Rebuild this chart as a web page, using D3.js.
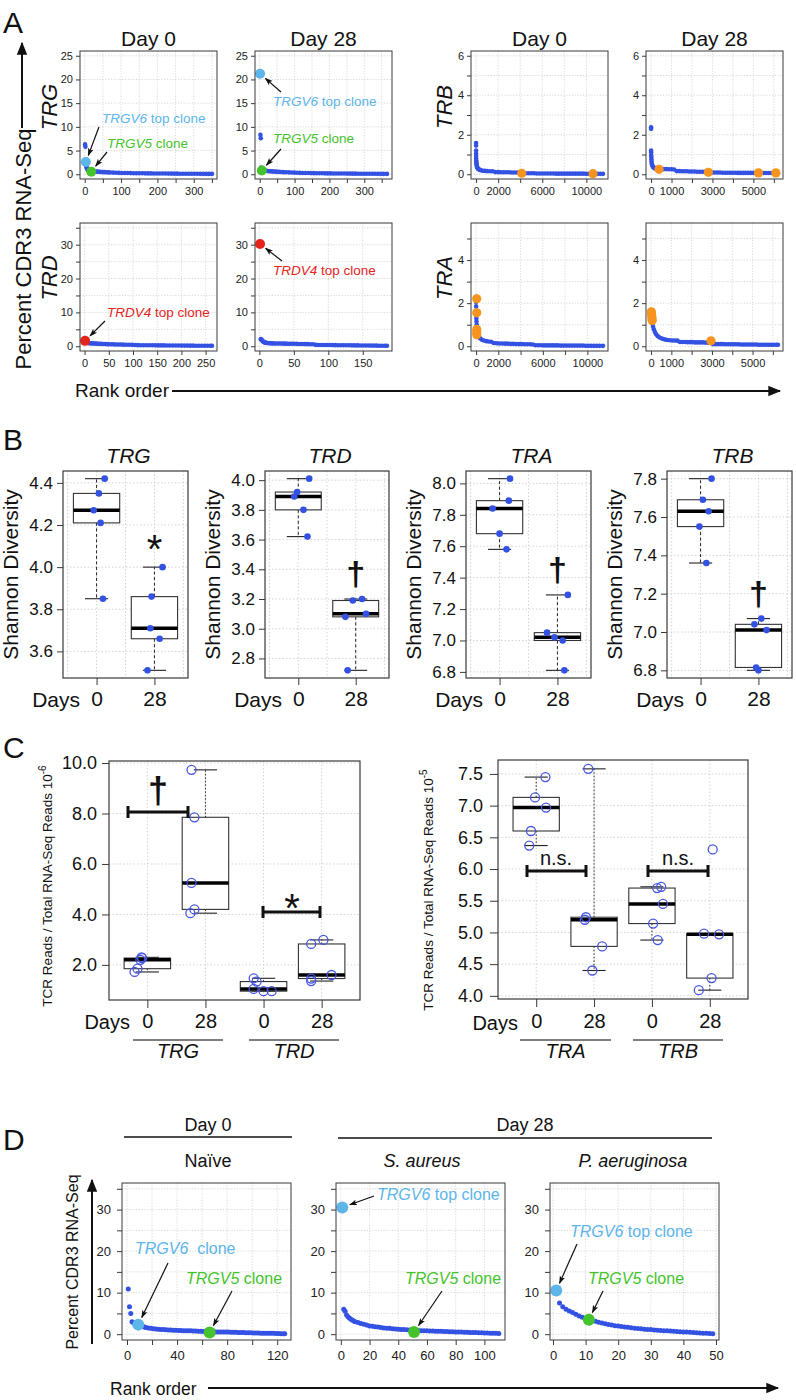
<!DOCTYPE html>
<html><head><meta charset="utf-8">
<script src="https://cdn.jsdelivr.net/npm/d3@7"></script>
<style>
body{margin:0;background:#fff}
svg{display:block}
text{font-family:"Liberation Sans",Arial,Helvetica,sans-serif}
</style></head>
<body><svg width="796" height="1400"></svg>
<script>
// ================= DATA =================
// Panel A: rank-order clone frequencies, [rank, percent CDR3 RNA-Seq]
const aTRG0 = [[1,6.3],[2,5.8],[4,1.9],[5,1.5],[6,1.3],[7,1.1],[8,1.0],[9,0.9],[10,0.85],[12,0.8],[14,0.75],[16,0.7],[20,0.65],[23,0.62],[26,0.6],[30,0.57],[34,0.55],[38,0.52],[42,0.5],[46,0.48],[50,0.46],[55,0.44],[60,0.42],[65,0.4],[70,0.38],[78,0.35],[86,0.32],[94,0.3],[102,0.28],[110,0.26],[118,0.25],[126,0.24],[134,0.22],[142,0.21],[150,0.2],[158,0.2],[166,0.19],[174,0.18],[182,0.18],[190,0.17],[198,0.16],[206,0.16],[214,0.15],[222,0.15],[230,0.14],[238,0.14],[246,0.13],[254,0.13],[262,0.12],[270,0.12],[278,0.11],[286,0.11],[294,0.1],[302,0.1],[310,0.1],[318,0.09],[326,0.09],[334,0.08],[342,0.08],[350,0.08]];
const aTRG0_top = [[3,2.6]];
const aTRG0_v5 = [[18,0.55]];
const aTRG28 = [[2,8.3],[3,7.6],[4,1.4],[5,1.2],[7,1.0],[8,0.95],[10,0.9],[12,0.85],[15,0.8],[18,0.75],[22,0.7],[26,0.65],[30,0.62],[35,0.6],[40,0.57],[45,0.55],[50,0.52],[56,0.5],[62,0.47],[68,0.45],[75,0.42],[83,0.4],[91,0.37],[99,0.35],[107,0.32],[115,0.3],[123,0.28],[131,0.27],[139,0.25],[147,0.24],[155,0.23],[163,0.22],[171,0.21],[179,0.2],[187,0.19],[195,0.18],[203,0.18],[211,0.17],[219,0.16],[227,0.16],[235,0.15],[243,0.15],[251,0.14],[259,0.14],[267,0.13],[275,0.13],[283,0.12],[291,0.12],[299,0.11],[307,0.11],[315,0.1],[323,0.1],[331,0.1],[339,0.09],[347,0.09],[355,0.08],[365,0.08]];
const aTRG28_top = [[1,21.2]];
const aTRG28_v5 = [[6,0.8]];
const aTRD0 = [[2,1.3],[3,1.2],[4,1.1],[5,1.05],[6,1.0],[8,0.95],[10,0.9],[12,0.88],[15,0.85],[18,0.82],[21,0.8],[24,0.78],[27,0.75],[30,0.72],[34,0.7],[38,0.67],[42,0.65],[46,0.62],[50,0.6],[55,0.58],[60,0.56],[65,0.54],[70,0.52],[75,0.5],[80,0.48],[86,0.46],[92,0.44],[98,0.42],[104,0.35],[110,0.33],[116,0.32],[122,0.31],[128,0.3],[134,0.29],[140,0.28],[146,0.27],[152,0.26],[158,0.25],[164,0.25],[170,0.24],[176,0.23],[182,0.22],[188,0.22],[194,0.21],[200,0.2],[206,0.2],[212,0.19],[218,0.18],[224,0.18],[230,0.17],[236,0.16],[242,0.16],[248,0.15],[254,0.15],[260,0.14],[263,0.14]];
const aTRD0_top = [[1,1.6]];
const aTRD28 = [[2,2.1],[3,2.0],[4,1.7],[5,1.5],[6,1.35],[7,1.2],[8,1.1],[9,1.05],[10,1.0],[12,0.95],[14,0.9],[16,0.88],[18,0.86],[20,0.85],[23,0.83],[26,0.82],[29,0.8],[32,0.8],[35,0.78],[38,0.77],[41,0.76],[44,0.75],[47,0.74],[50,0.72],[54,0.7],[58,0.68],[62,0.66],[66,0.64],[70,0.62],[74,0.6],[78,0.58],[82,0.4],[86,0.39],[90,0.38],[94,0.37],[98,0.36],[102,0.35],[106,0.34],[110,0.33],[114,0.32],[118,0.31],[122,0.3],[126,0.29],[130,0.28],[134,0.27],[138,0.26],[142,0.25],[146,0.24],[150,0.23],[154,0.22],[158,0.21],[162,0.2],[166,0.19],[170,0.18],[174,0.17],[178,0.16],[182,0.15],[185,0.15]];
const aTRD28_top = [[1,30.2]];
const aTRB0 = [[1,1.58],[2,1.45],[4,1.2],[6,1.05],[9,0.92],[13,0.8],[18,0.7],[25,0.62],[35,0.55],[50,0.48],[70,0.42],[100,0.36],[140,0.31],[200,0.27],[270,0.24],[350,0.22],[450,0.2],[600,0.18],[800,0.17],[1000,0.16],[1250,0.15],[1500,0.15],[1750,0.11],[2000,0.11],[2250,0.1],[2500,0.1],[2750,0.1],[3000,0.1],[3250,0.09],[3500,0.09],[3750,0.09],[4000,0.09],[4250,0.05],[4500,0.05],[4750,0.05],[5000,0.05],[5250,0.05],[5500,0.04],[5750,0.04],[6000,0.04],[6250,0.04],[6500,0.04],[6750,0.04],[7000,0.04],[7250,0.03],[7500,0.03],[7750,0.03],[8000,0.03],[8250,0.03],[8500,0.03],[8750,0.03],[9000,0.03],[9250,0.03],[9500,0.03],[9750,0.03],[10000,0.02],[10250,0.02],[10500,0.02],[10750,0.02],[11000,0.02],[11250,0.02],[11500,0.02]];
const aTRB0_sel = [[4140,0.05],[10600,0.03]];
const aTRB28 = [[1,2.38],[2,2.3],[4,1.2],[6,1.1],[9,0.95],[13,0.85],[18,0.75],[25,0.65],[35,0.55],[50,0.48],[70,0.42],[100,0.37],[130,0.34],[170,0.31],[220,0.29],[250,0.28],[375,0.27],[500,0.27],[625,0.26],[750,0.26],[875,0.25],[1000,0.25],[1125,0.24],[1250,0.16],[1375,0.16],[1500,0.15],[1625,0.15],[1750,0.15],[1875,0.14],[2000,0.14],[2125,0.14],[2250,0.13],[2375,0.13],[2500,0.13],[2625,0.12],[2750,0.12],[2875,0.12],[3000,0.09],[3125,0.09],[3250,0.09],[3375,0.09],[3500,0.08],[3625,0.08],[3750,0.08],[3875,0.08],[4000,0.08],[4125,0.08],[4250,0.07],[4375,0.07],[4500,0.07],[4625,0.07],[4750,0.07],[4875,0.07],[5000,0.07],[5125,0.06],[5250,0.06],[5375,0.06],[5500,0.06],[5625,0.06],[5750,0.06],[5875,0.06],[6000,0.06],[6125,0.05],[6200,0.05]];
const aTRB28_sel = [[390,0.25],[2800,0.1],[5250,0.07],[6100,0.07]];
const aTRA0 = [[1,2.3],[3,2.05],[6,1.85],[10,1.65],[15,1.45],[25,1.3],[40,1.15],[60,1.0],[90,0.85],[130,0.7],[180,0.56],[250,0.45],[350,0.37],[500,0.31],[700,0.27],[900,0.24],[1100,0.22],[1350,0.21],[1600,0.15],[1850,0.14],[2100,0.13],[2350,0.13],[2600,0.12],[2850,0.12],[3100,0.11],[3350,0.11],[3600,0.1],[3850,0.1],[4100,0.1],[4350,0.09],[4600,0.09],[4850,0.09],[5100,0.08],[5350,0.05],[5600,0.05],[5850,0.05],[6100,0.04],[6350,0.04],[6600,0.04],[6850,0.04],[7100,0.04],[7350,0.04],[7600,0.03],[7850,0.03],[8100,0.03],[8350,0.03],[8600,0.03],[8850,0.03],[9100,0.03],[9350,0.03],[9600,0.03],[9850,0.02],[10100,0.02],[10350,0.02],[10600,0.02],[10850,0.02],[11100,0.02],[11400,0.02]];
const aTRA0_sel = [[60,2.2],[60,1.55],[60,0.78],[60,0.64],[60,0.53]];
const aTRA28 = [[1,1.62],[5,1.55],[10,1.45],[20,1.35],[40,1.2],[70,1.05],[100,0.9],[140,0.78],[190,0.66],[250,0.56],[320,0.48],[400,0.42],[500,0.37],[600,0.34],[700,0.31],[800,0.29],[925,0.28],[1050,0.27],[1175,0.27],[1300,0.26],[1425,0.2],[1550,0.2],[1675,0.2],[1800,0.19],[1925,0.19],[2050,0.19],[2175,0.18],[2300,0.18],[2425,0.18],[2550,0.18],[2675,0.17],[2800,0.17],[2925,0.17],[3050,0.1],[3175,0.1],[3300,0.1],[3425,0.1],[3550,0.1],[3675,0.09],[3800,0.09],[3925,0.09],[4050,0.09],[4175,0.09],[4300,0.09],[4425,0.08],[4550,0.08],[4675,0.08],[4800,0.08],[4925,0.08],[5050,0.08],[5175,0.08],[5300,0.07],[5425,0.07],[5550,0.07],[5675,0.07],[5800,0.07],[5925,0.07],[6050,0.07],[6175,0.07],[6250,0.07]];
const aTRA28_sel = [[15,1.6],[25,1.5],[35,1.4],[45,1.3],[55,1.2],[2950,0.25]];

// Panel A tick values / labels
const tkTRGy = [0,5,10,15,20,25], lbTRGy = [0,5,10,15,20,25];
const tkTRDy = [0,5,10,15,20,25,30,35], lbTRDy = [0,10,20,30];
const tkTRBy = [0,1,2,3,4,5,6], lbTRBy = [0,2,4,6];
const tkTRAy = [0,1,2,3,4,5], lbTRAy = [0,2,4];
const tkTRGx = [0,50,100,150,200,250,300,350], lbTRGx = [0,100,200,300];
const tkTRD0x = [0,50,100,150,200,250], tkTRD28x = [0,50,100,150];
const tkBig0x = [0,2000,4000,6000,8000,10000,12000], lbBig0x = [0,2000,6000,10000];
const tkBig28x = [0,1000,2000,3000,4000,5000,6000], lbBig28x = [0,1000,3000,5000];

// Panel B: Shannon diversity per animal
const bTRG_0 = [4.42,4.35,4.27,4.21,3.85], bTRG_28 = [4.00,3.86,3.71,3.66,3.51];
const bTRD_0 = [4.01,3.92,3.89,3.80,3.62], bTRD_28 = [3.20,3.19,3.10,3.08,2.72];
const bTRA_0 = [8.03,7.89,7.84,7.68,7.58], bTRA_28 = [7.29,7.05,7.02,7.00,6.81];
const bTRB_0 = [7.80,7.69,7.63,7.55,7.36], bTRB_28 = [7.07,7.04,7.01,6.815,6.80];
// horizontal jitter of overlaid points (box-position units)
const jbTRG_0 = [0.14,0.04,-0.05,0.07,0.11], jbTRG_28 = [0.14,-0.05,-0.07,0.09,-0.12];
const jbTRD_0 = [0.19,-0.02,-0.07,0.09,0.16], jbTRD_28 = [0.11,-0.05,0.18,-0.18,-0.14];
const jbTRA_0 = [0.18,0.16,-0.12,0,0.12], jbTRA_28 = [0.18,-0.18,-0.05,0.09,0.12];
const jbTRB_0 = [0.19,0.04,0.14,-0.02,0.1], jbTRB_28 = [0.05,-0.07,0.14,-0.04,0];
const bDays = ["0","28"];
const bTicksTRG = [3.6,3.8,4.0,4.2,4.4], bTicksTRD = [2.8,3.0,3.2,3.4,3.6,3.8,4.0];
const bTicksTRA = [6.8,7.0,7.2,7.4,7.6,7.8,8.0], bTicksTRB = [6.8,7.0,7.2,7.4,7.6,7.8];

// Panel C: TCR reads / total RNA-Seq reads
const cTRG_0 = [2.30,2.27,2.20,1.85,1.72], cTRG_28 = [9.73,7.85,5.25,4.20,4.05];
const cTRD_0 = [1.47,1.34,1.05,0.96,0.96], cTRD_28 = [2.99,2.83,1.60,1.46,1.36];
const cTRA_0 = [7.45,7.13,6.97,6.60,6.37], cTRA_28 = [7.58,5.24,5.20,4.78,4.40];
const cTRB_0 = [5.72,5.70,5.45,5.14,4.88], cTRB_28 = [6.31,4.98,4.97,4.28,4.09];
const cTRB_28_out = [6.31];
const jcTRG_0 = [-0.1,-0.09,-0.12,-0.17,-0.22], jcTRG_28 = [-0.24,-0.19,-0.24,-0.19,-0.26];
const jcTRD_0 = [-0.17,-0.12,-0.17,0,0.14], jcTRD_28 = [0.03,-0.18,0.17,-0.18,-0.18];
const jcTRA_0 = [0.16,-0.02,0.17,-0.09,-0.12], jcTRA_28 = [-0.1,-0.14,-0.16,0.14,-0.03];
const jcTRB_0 = [0.16,0.09,0.19,0.02,0.1], jcTRB_28 = [0.05,-0.1,0.16,0.03,-0.19];
const cDays = ["0","28","0","28"];
const cTicksL = [2,4,6,8,10], cTicksR = [4.0,4.5,5.0,5.5,6.0,6.5,7.0,7.5];

// Panel D: rank-order TRG clones, [rank, percent]
const dNaive = [[1,10.9],[2,6.6],[3,5.0],[4,3.0],[5,2.8],[6,2.6],[7,2.4],[8,2.3],[10,2.1],[11,2.0],[12,1.9],[13,1.8],[14,1.7],[15,1.6],[17,1.5],[19,1.4],[21,1.3],[23,1.25],[25,1.2],[27,1.15],[29,1.1],[31,1.05],[33,1.0],[35,1.0],[37,0.95],[39,0.95],[41,0.9],[43,0.9],[45,0.85],[47,0.85],[49,0.8],[51,0.8],[53,0.75],[55,0.75],[57,0.7],[59,0.7],[61,0.65],[63,0.65],[65,0.6],[67,0.6],[69,0.6],[71,0.55],[73,0.55],[75,0.55],[77,0.5],[79,0.5],[81,0.5],[83,0.45],[85,0.45],[87,0.45],[89,0.4],[91,0.4],[93,0.4],[95,0.35],[97,0.35],[99,0.35],[101,0.3],[103,0.3],[105,0.3],[107,0.25],[109,0.25],[111,0.25],[113,0.2],[115,0.2],[117,0.2],[119,0.15],[121,0.15],[123,0.1],[125,0.1],[126,0.1]];
const dNaive_v6 = [[9,2.3]], dNaive_v5 = [[66,0.4]];
const dSa = [[2,6.0],[3,5.5],[4,4.6],[5,4.2],[6,3.9],[7,3.6],[8,3.4],[9,3.2],[10,3.0],[12,2.8],[14,2.6],[16,2.4],[18,2.2],[20,2.0],[22,1.9],[24,1.8],[26,1.7],[28,1.6],[30,1.5],[32,1.45],[34,1.4],[36,1.3],[38,1.25],[40,1.2],[42,1.15],[44,1.1],[46,1.05],[48,1.0],[50,0.95],[52,0.9],[54,0.88],[56,0.85],[58,0.82],[60,0.8],[62,0.78],[64,0.75],[66,0.72],[68,0.7],[70,0.68],[72,0.65],[74,0.62],[76,0.6],[78,0.58],[80,0.55],[82,0.52],[84,0.5],[86,0.48],[88,0.45],[90,0.42],[92,0.4],[94,0.38],[96,0.35],[98,0.32],[100,0.3],[102,0.28],[104,0.25],[106,0.22],[108,0.2],[110,0.18]];
const dSa_v6 = [[1,30.5]], dSa_v5 = [[51,0.5]];
const dPa = [[2,7.5],[3,6.6],[4,6.0],[5,5.6],[6,5.2],[7,4.8],[8,4.4],[9,4.1],[10,3.8],[12,3.3],[13,3.1],[14,2.9],[15,2.7],[16,2.5],[17,2.35],[18,2.2],[19,2.05],[20,1.95],[21,1.85],[22,1.75],[23,1.65],[24,1.55],[25,1.45],[26,1.35],[27,1.3],[28,1.2],[29,1.15],[30,1.1],[31,1.0],[32,0.95],[33,0.9],[34,0.85],[35,0.8],[36,0.75],[37,0.7],[38,0.65],[39,0.6],[40,0.55],[41,0.5],[42,0.45],[43,0.4],[44,0.35],[45,0.3],[46,0.25],[47,0.2],[48,0.15],[49,0.1]];
const dPa_v6 = [[1,10.5]], dPa_v5 = [[11,3.5]];
const tkDy = [0,5,10,15,20,25,30,35], lbDy = [0,10,20,30];
const tkNx = [0,20,40,60,80,100,120], lbNx = [0,40,80,120];
const tkSx = [0,20,40,60,80,100], tkPx = [0,10,20,30,40,50];

// ================= DRAWING =================
const COL = {blue:"#3352e3", lblue:"#5db5ea", green:"#45c32c", red:"#e5231d", orange:"#f7941e",
             grid:"#cfcfcf", axis:"#3a3a3a", open:"#4656e0"};
const svg = d3.select("svg");
const defs = svg.append("defs");
defs.append("marker").attr("id","sh").attr("viewBox","0 0 10 10").attr("refX",9).attr("refY",5)
  .attr("markerUnits","userSpaceOnUse").attr("markerWidth",8).attr("markerHeight",8).attr("orient","auto")
  .append("path").attr("d","M0,1.5 L10,5 L0,8.5 L2.2,5 z").attr("fill","#111");
defs.append("marker").attr("id","bh").attr("viewBox","0 0 10 10").attr("refX",9).attr("refY",5)
  .attr("markerUnits","userSpaceOnUse").attr("markerWidth",13).attr("markerHeight",13).attr("orient","auto")
  .append("path").attr("d","M0,1 L10,5 L0,9 z").attr("fill","#111");

function T(x,y,s,o={}){
  const t = svg.append("text").attr("x",x).attr("y",y).text(s)
    .attr("font-size",o.fs||12).attr("fill",o.fill||"#111").attr("text-anchor",o.anchor||"start");
  if(o.it) t.attr("font-style","italic");
  if(o.bold) t.attr("font-weight","bold");
  if(o.rot) t.attr("transform",`rotate(-90,${x},${y})`);
  return t;
}
function arrow(x1,y1,x2,y2,w,m){
  svg.append("line").attr("x1",x1).attr("y1",y1).attr("x2",x2).attr("y2",y2)
    .attr("stroke","#111").attr("stroke-width",w).attr("marker-end",`url(#${m})`);
}
function styleAxis(a,fs,col){
  a.attr("font-family",null).attr("font-size",null);
  a.select(".domain").remove();
  a.selectAll(".tick line").attr("stroke",COL.axis);
  a.selectAll("text").attr("font-size",fs).attr("fill",col||"#222");
}

function rankPlot(p){
  const g = svg.append("g");
  const n = p.n, ex = 0.04*(n-1);
  const x = d3.scaleLinear().domain([1-ex, n+ex]).range([p.x0,p.x1]);
  const y = d3.scaleLinear().domain([-0.04*p.ymax, 1.04*p.ymax]).range([p.y1,p.y0]);
  const xT = p.xT.filter(v=>v>=x.domain()[0] && v<=x.domain()[1]);
  g.append("g").selectAll("line").data(xT).join("line")
    .attr("x1",d=>x(d)).attr("x2",d=>x(d)).attr("y1",p.y0).attr("y2",p.y1)
    .attr("stroke",COL.grid).attr("stroke-width",0.8).attr("stroke-dasharray","1.2,1.6");
  g.append("g").selectAll("line").data(p.yT).join("line")
    .attr("y1",d=>y(d)).attr("y2",d=>y(d)).attr("x1",p.x0).attr("x2",p.x1)
    .attr("stroke",COL.grid).attr("stroke-width",0.8).attr("stroke-dasharray","1.2,1.6");
  g.append("g").selectAll("circle").data(p.blue).join("circle")
    .attr("cx",d=>x(d[0])).attr("cy",d=>y(d[1])).attr("r",p.r).attr("fill",COL.blue);
  (p.spec||[]).forEach(s=>{
    g.append("g").selectAll("circle").data(s.pts).join("circle")
      .attr("cx",d=>x(d[0])).attr("cy",d=>y(d[1])).attr("r",s.r).attr("fill",s.color);
  });
  g.append("rect").attr("x",p.x0).attr("y",p.y0).attr("width",p.x1-p.x0).attr("height",p.y1-p.y0)
    .attr("fill","none").attr("stroke",COL.axis).attr("stroke-width",1);
  const gx = g.append("g").attr("transform",`translate(0,${p.y1})`)
    .call(d3.axisBottom(x).tickValues(xT).tickFormat(d=>p.xL.includes(d)?String(d):"")
      .tickSizeInner(p.tick).tickSizeOuter(0).tickPadding(p.xPad));
  const gy = g.append("g").attr("transform",`translate(${p.x0},0)`)
    .call(d3.axisLeft(y).tickValues(p.yT).tickFormat(d=>p.yL.includes(d)?String(d):"")
      .tickSizeInner(p.tick).tickSizeOuter(0).tickPadding(p.yPad));
  styleAxis(gx,p.fs); styleAxis(gy,p.fs);
  return {x,y};
}

function annotate(sc, pt, r, tail, tx, ty, parts, color, fs){
  const px = sc.x(pt[0]), py = sc.y(pt[1]);
  const dx = tail[0]-px, dy = tail[1]-py, L = Math.hypot(dx,dy);
  arrow(tail[0],tail[1], px+dx/L*(r+2), py+dy/L*(r+2), 1.2, "sh");
  const t = svg.append("text").attr("x",tx).attr("y",ty).attr("font-size",fs).attr("fill",color);
  parts.forEach(([s,it])=>t.append("tspan").text(s).attr("font-style",it?"italic":"normal"));
}

function fivenum(a){
  const s=[...a].sort((p,q)=>p-q), n=s.length;
  const n4=Math.floor((n+3)/2)/2;
  return [1,n4,(n+1)/2,n+1-n4,n].map(v=>0.5*(s[Math.floor(v)-1]+s[Math.ceil(v)-1]));
}

function boxPanel(p){
  const g = svg.append("g");
  const allV = p.groups.flatMap(q=>q.v);
  const mn=d3.min(allV), mx=d3.max(allV), pad=(mx-mn)*0.04;
  const y = d3.scaleLinear().domain([mn-pad,mx+pad]).range([p.y1,p.y0]);
  const n = p.groups.length;
  const x = d3.scaleLinear().domain([0.5-0.04*n, n+0.5+0.04*n]).range([p.x0,p.x1]);
  g.append("g").selectAll("line").data(p.gridX).join("line")
    .attr("x1",d=>x(d)).attr("x2",d=>x(d)).attr("y1",p.y0).attr("y2",p.y1)
    .attr("stroke",COL.grid).attr("stroke-width",0.9).attr("stroke-dasharray","1.5,2");
  g.append("g").selectAll("line").data(p.yT).join("line")
    .attr("y1",d=>y(d)).attr("y2",d=>y(d)).attr("x1",p.x0).attr("x2",p.x1)
    .attr("stroke",COL.grid).attr("stroke-width",0.9).attr("stroke-dasharray","1.5,2");
  p.groups.forEach((q,i)=>{
    const pos=i+1, f=fivenum(q.v), out=q.out||[];
    const inl=q.v.filter(v=>!out.includes(v));
    const lo=d3.min(inl), hi=d3.max(inl);
    const wl = {stroke:"#222","stroke-width":1,"stroke-dasharray":p.dash};
    const ln=(x1,y1,x2,y2,st)=>{const l=g.append("line").attr("x1",x1).attr("y1",y1).attr("x2",x2).attr("y2",y2);Object.entries(st).forEach(([k,v])=>l.attr(k,v));return l;};
    ln(x(pos),y(f[3]),x(pos),y(hi),wl);
    ln(x(pos),y(f[1]),x(pos),y(lo),wl);
    ln(x(pos-0.2),y(hi),x(pos+0.2),y(hi),{stroke:"#222","stroke-width":1.1});
    ln(x(pos-0.2),y(lo),x(pos+0.2),y(lo),{stroke:"#222","stroke-width":1.1});
    g.append("rect").attr("x",x(pos-0.4)).attr("width",x(pos+0.4)-x(pos-0.4))
      .attr("y",y(f[3])).attr("height",Math.max(0.5,y(f[1])-y(f[3])))
      .attr("fill","#fff").attr("stroke","#333").attr("stroke-width",1.1);
    ln(x(pos-0.4),y(f[2]),x(pos+0.4),y(f[2]),{stroke:"#000","stroke-width":3.5});
  });
  p.groups.forEach((q,i)=>{
    const pts = q.v.map((v,k)=>[i+1+q.j[k], v]);
    const c = g.append("g").selectAll("circle").data(pts).join("circle")
      .attr("cx",d=>x(d[0])).attr("cy",d=>y(d[1])).attr("r",p.r);
    if(p.open) c.attr("fill","none").attr("stroke",COL.open).attr("stroke-width",1.3);
    else c.attr("fill",COL.blue);
  });
  g.append("rect").attr("x",p.x0).attr("y",p.y0).attr("width",p.x1-p.x0).attr("height",p.y1-p.y0)
    .attr("fill","none").attr("stroke",COL.axis).attr("stroke-width",1.2);
  const gx = g.append("g").attr("transform",`translate(0,${p.y1})`)
    .call(d3.axisBottom(x).tickValues(p.groups.map((q,i)=>i+1)).tickFormat((d,i)=>p.xLab[i])
      .tickSizeInner(p.tickX).tickSizeOuter(0).tickPadding(p.xPad));
  const gy = g.append("g").attr("transform",`translate(${p.x0},0)`)
    .call(d3.axisLeft(y).tickValues(p.yT).tickFormat(d3.format(".1f"))
      .tickSizeInner(p.tickY).tickSizeOuter(0).tickPadding(p.yPad));
  styleAxis(gx,p.fsX,"#111"); styleAxis(gy,p.fsY,"#111");
  return {x,y};
}

// ---------- Panel A ----------
T(3,33,"A",{fs:30});
const colsA = [[80,217],[255,392],[471,608],[646,783]];
const rowT = [51,179], rowB = [223,351];
const baseA = {tick:4, xPad:4, yPad:3, fs:11, r:2.3};
const sTRG0 = rankPlot({...baseA, x0:80,x1:217,y0:51,y1:179, n:350, ymax:25, yT:tkTRGy, yL:lbTRGy, xT:tkTRGx, xL:lbTRGx, blue:aTRG0,
  spec:[{pts:aTRG0_top,color:COL.lblue,r:5},{pts:aTRG0_v5,color:COL.green,r:5}]});
const sTRG28 = rankPlot({...baseA, x0:255,x1:392,y0:51,y1:179, n:365, ymax:25, yT:tkTRGy, yL:lbTRGy, xT:tkTRGx, xL:lbTRGx, blue:aTRG28,
  spec:[{pts:aTRG28_top,color:COL.lblue,r:5},{pts:aTRG28_v5,color:COL.green,r:5}]});
rankPlot({...baseA, x0:471,x1:608,y0:51,y1:179, n:11500, ymax:6, yT:tkTRBy, yL:lbTRBy, xT:tkBig0x, xL:lbBig0x, blue:aTRB0,
  spec:[{pts:aTRB0_sel,color:COL.orange,r:4.6}]});
rankPlot({...baseA, x0:646,x1:783,y0:51,y1:179, n:6200, ymax:6, yT:tkTRBy, yL:lbTRBy, xT:tkBig28x, xL:lbBig28x, blue:aTRB28,
  spec:[{pts:aTRB28_sel,color:COL.orange,r:4.6}]});
const sTRD0 = rankPlot({...baseA, x0:80,x1:217,y0:223,y1:351, n:263, ymax:35, yT:tkTRDy, yL:lbTRDy, xT:tkTRD0x, xL:tkTRD0x, blue:aTRD0,
  spec:[{pts:aTRD0_top,color:COL.red,r:5}]});
const sTRD28 = rankPlot({...baseA, x0:255,x1:392,y0:223,y1:351, n:185, ymax:35, yT:tkTRDy, yL:lbTRDy, xT:tkTRD28x, xL:tkTRD28x, blue:aTRD28,
  spec:[{pts:aTRD28_top,color:COL.red,r:5}]});
rankPlot({...baseA, x0:471,x1:608,y0:223,y1:351, n:11400, ymax:5.5, yT:tkTRAy, yL:lbTRAy, xT:tkBig0x, xL:lbBig0x, blue:aTRA0,
  spec:[{pts:aTRA0_sel,color:COL.orange,r:4.6}]});
rankPlot({...baseA, x0:646,x1:783,y0:223,y1:351, n:6250, ymax:5.5, yT:tkTRAy, yL:lbTRAy, xT:tkBig28x, xL:lbBig28x, blue:aTRA28,
  spec:[{pts:aTRA28_sel,color:COL.orange,r:4.6}]});
["Day 0","Day 28","Day 0","Day 28"].forEach((s,i)=>T((colsA[i][0]+colsA[i][1])/2,46,s,{fs:21,anchor:"middle"}));
T(57,107,"TRG",{fs:22,it:true,rot:true,anchor:"middle"});
T(57,278,"TRD",{fs:22,it:true,rot:true,anchor:"middle"});
T(452,107,"TRB",{fs:22,it:true,rot:true,anchor:"middle"});
T(452,278,"TRA",{fs:22,it:true,rot:true,anchor:"middle"});
T(31,249,"Percent CDR3 RNA-Seq",{fs:22,rot:true,anchor:"middle"});
arrow(22,128,22,43,2,"bh");
T(75,397,"Rank order",{fs:19});
arrow(172,391,780,391,2,"bh");
annotate(sTRG0, aTRG0_top[0], 5, [99,127], 102,123, [["TRGV6",1],[" top clone",0]], COL.lblue, 13.5);
annotate(sTRG0, aTRG0_v5[0], 5, [107,152], 107,148, [["TRGV5",1],[" clone",0]], COL.green, 13.5);
annotate(sTRG28, aTRG28_top[0], 5, [281,92], 273,106, [["TRGV6",1],[" top clone",0]], COL.lblue, 13.5);
annotate(sTRG28, aTRG28_v5[0], 5, [281,149], 273,143, [["TRGV5",1],[" clone",0]], COL.green, 13.5);
annotate(sTRD0, aTRD0_top[0], 5, [105,321], 107,317, [["TRDV4",1],[" top clone",0]], COL.red, 13.5);
annotate(sTRD28, aTRD28_top[0], 5, [282,261], 273,275, [["TRDV4",1],[" top clone",0]], COL.red, 13.5);

// ---------- Panel B ----------
T(3,450,"B",{fs:30});
const bPanels = [
  {t:"TRG",x0:63,x1:188,yT:bTicksTRG,g0:bTRG_0,g28:bTRG_28,j0:jbTRG_0,j28:jbTRG_28,mark:"*"},
  {t:"TRD",x0:265,x1:389,yT:bTicksTRD,g0:bTRD_0,g28:bTRD_28,j0:jbTRD_0,j28:jbTRD_28,mark:"†"},
  {t:"TRA",x0:466,x1:591,yT:bTicksTRA,g0:bTRA_0,g28:bTRA_28,j0:jbTRA_0,j28:jbTRA_28,mark:"†"},
  {t:"TRB",x0:667,x1:792,yT:bTicksTRB,g0:bTRB_0,g28:bTRB_28,j0:jbTRB_0,j28:jbTRB_28,mark:"†"}];
bPanels.forEach(b=>{
  const sc = boxPanel({x0:b.x0,x1:b.x1,y0:471,y1:678,yT:b.yT,gridX:[0.5,1,1.5,2,2.5],
    groups:[{v:b.g0,j:b.j0},{v:b.g28,j:b.j28}], xLab:bDays, r:3.3, open:false, dash:"3,2.5",
    tickX:7,tickY:6,xPad:6,yPad:4,fsX:21,fsY:17});
  T((b.x0+b.x1)/2+3,463,b.t,{fs:21,it:true,anchor:"middle"});
  T(b.x0+17,707,"Days",{fs:21,anchor:"end"});
  T(b.x0-45,574.5,"Shannon Diversity",{fs:21,rot:true,anchor:"middle"});
  const top = sc.y(d3.max(b.g28));
  if(b.mark==="*") T(sc.x(2), top-4, "*", {fs:40,anchor:"middle"});
  else T(sc.x(2), top-14, "†", {fs:34,bold:true,anchor:"middle"});
});

// ---------- Panel C ----------
T(3,758,"C",{fs:30});
const scL = boxPanel({x0:109,x1:360,y0:761,y1:1000,yT:cTicksL,gridX:[1,2,3,4],
  groups:[{v:cTRG_0,j:jcTRG_0},{v:cTRG_28,j:jcTRG_28},{v:cTRD_0,j:jcTRD_0},{v:cTRD_28,j:jcTRD_28}],
  xLab:cDays, r:4.5, open:true, dash:"1.5,2", tickX:8,tickY:7,xPad:6,yPad:5,fsX:20,fsY:18});
const scR = boxPanel({x0:498,x1:748,y0:760,y1:999,yT:cTicksR,gridX:[1,2,3,4],
  groups:[{v:cTRA_0,j:jcTRA_0},{v:cTRA_28,j:jcTRA_28},{v:cTRB_0,j:jcTRB_0},{v:cTRB_28,j:jcTRB_28,out:cTRB_28_out}],
  xLab:cDays, r:4.5, open:true, dash:"1.5,2", tickX:8,tickY:8,xPad:7,yPad:7,fsX:20,fsY:18});
function ylabC(x,y,exp){
  const t = svg.append("text").attr("x",x).attr("y",y).attr("font-size",13.5).attr("fill","#111")
    .attr("text-anchor","middle").attr("transform",`rotate(-90,${x},${y})`);
  t.append("tspan").text("TCR Reads / Total RNA-Seq Reads 10");
  t.append("tspan").text(exp).attr("font-size",10).attr("dy",-6);
}
ylabC(52,886,"-6"); ylabC(433,890,"-5");
T(130,1029,"Days",{fs:20,anchor:"end"});
T(518,1030,"Days",{fs:20,anchor:"end"});
function group(x1,x2,y,lab){
  svg.append("line").attr("x1",x1).attr("x2",x2).attr("y1",y).attr("y2",y).attr("stroke","#555").attr("stroke-width",1.5);
  T((x1+x2)/2,y+18,lab,{fs:20,it:true,anchor:"middle"});
}
group(133,223,1040,"TRG"); group(249,339,1040,"TRD");
group(520,611,1040,"TRA"); group(633,723,1040,"TRB");
function bracket(x1,x2,y){
  svg.append("path").attr("d",`M${x1},${y-6}V${y+6}M${x1},${y}H${x2}M${x2},${y-6}V${y+6}`)
    .attr("stroke","#111").attr("stroke-width",3).attr("fill","none");
}
bracket(128,188,812); T(158,803,"†",{fs:36,bold:true,anchor:"middle"});
bracket(263,320,912); T(292,922,"*",{fs:40,anchor:"middle"});
bracket(527,586,871); T(556,865,"n.s.",{fs:20,anchor:"middle"});
bracket(648,708,871); T(678,865,"n.s.",{fs:20,anchor:"middle"});

// ---------- Panel D ----------
T(3,1150,"D",{fs:30});
const baseD = {tick:5, xPad:6, yPad:6, fs:13, r:2.5, y0:1183, y1:1340, ymax:35, yT:tkDy, yL:lbDy};
const sN = rankPlot({...baseD, x0:122,x1:291, n:126, xT:tkNx, xL:lbNx, blue:dNaive,
  spec:[{pts:dNaive_v6,color:COL.lblue,r:6},{pts:dNaive_v5,color:COL.green,r:6}]});
const sS = rankPlot({...baseD, x0:336,x1:505, n:110, xT:tkSx, xL:tkSx, blue:dSa,
  spec:[{pts:dSa_v6,color:COL.lblue,r:6},{pts:dSa_v5,color:COL.green,r:6}]});
const sP = rankPlot({...baseD, x0:550,x1:719, n:49, xT:tkPx, xL:tkPx, blue:dPa,
  spec:[{pts:dPa_v6,color:COL.lblue,r:6},{pts:dPa_v5,color:COL.green,r:6}]});
T(208,1131,"Day 0",{fs:18,anchor:"middle"});
svg.append("line").attr("x1",124).attr("x2",292).attr("y1",1137).attr("y2",1137).attr("stroke","#111").attr("stroke-width",1.5);
T(525,1131,"Day 28",{fs:18,anchor:"middle"});
svg.append("line").attr("x1",338).attr("x2",712).attr("y1",1138).attr("y2",1138).attr("stroke","#111").attr("stroke-width",1.5);
T(208,1167,"Naïve",{fs:18,anchor:"middle"});
T(422,1167,"S. aureus",{fs:18,it:true,anchor:"middle"});
T(633,1167,"P. aeruginosa",{fs:18,it:true,anchor:"middle"});
T(78,1262,"Percent CDR3 RNA-Seq",{fs:16,rot:true,anchor:"middle"});
arrow(92,1344,92,1180,2,"bh");
T(110,1395,"Rank order",{fs:17.5});
arrow(208,1388,778,1388,2,"bh");
annotate(sN, dNaive_v6[0], 6, [168,1263], 135,1254, [["TRGV6",1],["\u00A0 clone",0]], COL.lblue, 16);
annotate(sN, dNaive_v5[0], 6, [232,1291], 186,1284, [["TRGV5",1],[" clone",0]], COL.green, 16);
annotate(sS, dSa_v6[0], 6, [374,1196], 377,1200, [["TRGV6",1],[" top clone",0]], COL.lblue, 16);
annotate(sS, dSa_v5[0], 6, [442,1291], 405,1284, [["TRGV5",1],[" clone",0]], COL.green, 16);
annotate(sP, dPa_v6[0], 6, [577,1244], 570,1237, [["TRGV6",1],[" top clone",0]], COL.lblue, 16);
annotate(sP, dPa_v5[0], 6, [603,1291], 588,1284, [["TRGV5",1],[" clone",0]], COL.green, 16);
</script></body></html>
